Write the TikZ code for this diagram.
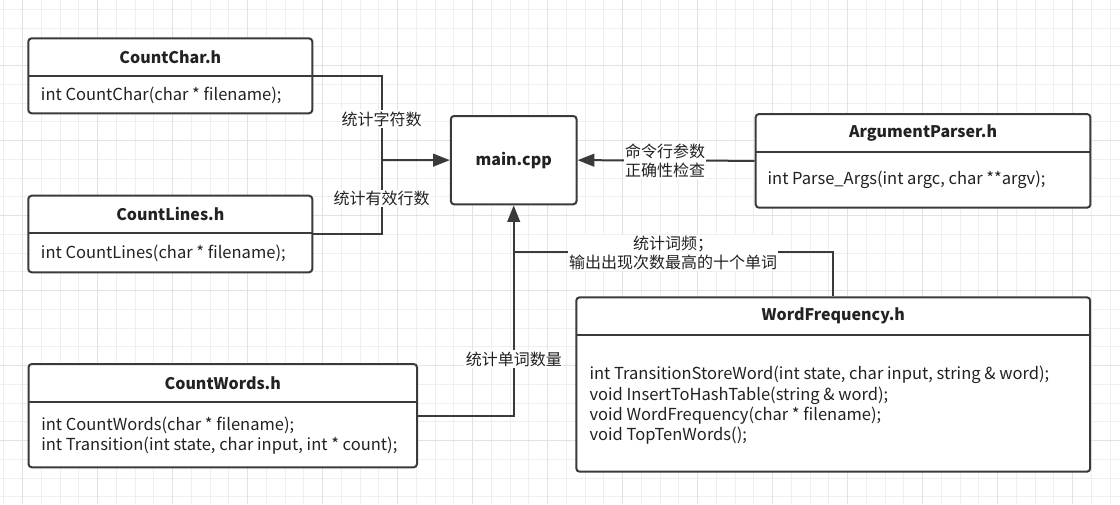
\documentclass[tikz,border=0pt]{standalone}
\usepackage{fontspec}
\setmainfont{Noto Sans CJK SC}
\usetikzlibrary{arrows.meta,fit}
\definecolor{gridminor}{HTML}{EFEFEF}
\definecolor{gridmajor}{HTML}{E2E2E2}
\definecolor{edge}{HTML}{3A3A3A}
\definecolor{ink}{HTML}{222222}
\tikzset{
  umlbox/.style={draw=edge, line width=1.5pt, fill=white, rounded corners=2.5pt, inner sep=0pt},
  hdr/.style={inner sep=0pt},
  divider/.style={draw=edge, line width=1.5pt},
  title/.style={font=\fontsize{12pt}{14pt}\selectfont\bfseries, text=ink, inner sep=0pt},
  meth/.style={font=\fontsize{12.4pt}{15.2pt}\selectfont, text=ink, align=left, anchor=west, inner sep=0pt},
  conn/.style={draw=edge, line width=1.5pt},
  arr/.style={conn, -{Triangle[length=12.5pt,width=9.5pt]}},
  lbl/.style={font=\fontsize{12pt}{14pt}\selectfont, text=ink, fill=white, align=center, inner sep=1pt},
}
\begin{document}
\begin{tikzpicture}[x=0.75pt,y=-0.75pt]
\useasboundingbox (0,0) rectangle (1120,504);
\fill[white] (0,0) rectangle (1120,504);
% grid
\foreach \i in {0,...,59} {
  \draw[gridminor, line width=0.75pt] ({3.95+18.75*\i},0) -- ({3.95+18.75*\i},504);
}
\foreach \i in {0,...,26} {
  \draw[gridminor, line width=0.75pt] (0,{9.3+18.75*\i}) -- (1120,{9.3+18.75*\i});
}
\foreach \i in {0,...,14} {
  \draw[gridmajor, line width=0.75pt] ({22.7+75*\i},0) -- ({22.7+75*\i},504);
}
\foreach \i in {0,...,6} {
  \draw[gridmajor, line width=0.75pt] (0,{65.7+75*\i}) -- (1120,{65.7+75*\i});
}

% CountChar.h
\node[umlbox, fit={(28.3,38.3) (312.3,113.3)}] (cc) {};
\node[hdr, fit={(28.3,38.3) (312.3,75.7)}] (cch) {};
\draw[divider] (cch.south west) -- (cch.south east);
\node[title] (cct) at (cch.center) {CountChar.h};
\node[meth] (ccm) at (40.7,95) {int CountChar(char * filename);};

% CountLines.h
\node[umlbox, fit={(28.3,195.7) (312.3,272.3)}] (cl) {};
\node[hdr, fit={(28.3,195.7) (312.3,233)}] (clh) {};
\draw[divider] (clh.south west) -- (clh.south east);
\node[title] (clt) at (clh.center) {CountLines.h};
\node[meth] (clm) at (40.7,253) {int CountLines(char * filename);};

% main.cpp
\node[umlbox, fit={(450.8,116) (576.6,204.3)}] (main) {};
\node[title] (maint) at (main.center) {main.cpp};

% ArgumentParser.h
\node[umlbox, fit={(755.7,114) (1090.4,207.7)}] (ap) {};
\node[hdr, fit={(755.7,114) (1090.4,151.7)}] (aph) {};
\draw[divider] (aph.south west) -- (aph.south east);
\node[title] (apt) at (aph.center) {ArgumentParser.h};
\node[meth] (apm) at (767.4,180) {int Parse\_Args(int argc, char **argv);};

% CountWords.h
\node[umlbox, fit={(28.5,364) (417,467.3)}] (cw) {};
\node[hdr, fit={(28.5,364) (417,402)}] (cwh) {};
\draw[divider] (cwh.south west) -- (cwh.south east);
\node[title] (cwt) at (cwh.center) {CountWords.h};
\node[meth] (cwm) at (41,435.4) {int CountWords(char * filename);\\int Transition(int state, char input, int * count);};

% WordFrequency.h
\node[umlbox, fit={(576.3,297.3) (1090.2,471.7)}] (wf) {};
\node[hdr, fit={(576.3,297.3) (1090.2,334.3)}] (wfh) {};
\draw[divider] (wfh.south west) -- (wfh.south east);
\node[title] (wft) at (wfh.center) {WordFrequency.h};
\node[meth] (wfm) at (589.3,405.4) {int TransitionStoreWord(int state, char input, string \& word);\\void InsertToHashTable(string \& word);\\void WordFrequency(char * filename);\\void TopTenWords();};

% connectors
\coordinate (j1) at (382.3,160.2);
\coordinate (j2) at (513.7,251.7);
\draw[conn] (cc.east) -| (j1) |- (cl.east);
\draw[arr] (j1) -- (main.west);
\draw[arr] (ap.west) -- (main.east);
\draw[arr] (cw.east) -| (main.south);
\draw[conn] (wf.north) |- (j2);

% labels
\node[lbl] (l1) at (381.7,119) {统计字符数};
\node[lbl] (l2) at (381.7,198.3) {统计有效行数};
\node[lbl] (l3) at (665,161) {命令行参数\\正确性检查};
\node[lbl] (l4) at (673,253) {统计词频；\\输出出现次数最高的十个单词};
\node[lbl] (l5) at (513.8,359) {统计单词数量};
\end{tikzpicture}
\end{document}
